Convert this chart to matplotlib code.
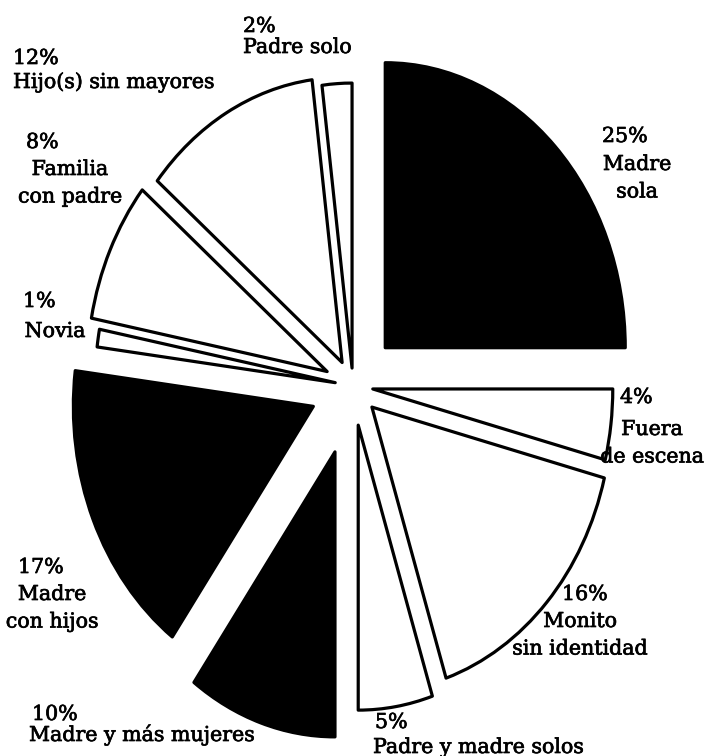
import matplotlib
matplotlib.use("Agg")
import matplotlib.pyplot as plt
import matplotlib.patheffects as pe

# ---- data ----
categories = ["Madre\nsola", "Fuera\nde escena", "Monito\nsin identidad",
              "Padre y madre solos", "Madre y más mujeres", "Madre\ncon hijos",
              "Novia", "Familia\ncon padre", "Hijo(s) sin mayores", "Padre solo"]
percents = [25, 4, 16, 5, 10, 17, 1, 8, 12, 2]
dark = [True, False, False, False, True, True, False, False, False, False]

# ---- layout ----
W, H = 705, 756
explode = [0.19, 0.083, 0.108, 0.139, 0.243, 0.18, 0.075, 0.119, 0.094, 0.063]
# pixel geometry of the (slightly vertically stretched) pie
CX, CY, RX, RY = 353, 386, 240, 285
# label anchors in pixels: (pct_left_x, pct_baseline, name_x, name_baseline, name_ha)
label_pos = [
    (602, 142, 637, 170, "center"),
    (620, 403, 652, 435, "center"),
    (562, 600, 580, 627, "center"),
    (375, 728, 373, 753, "left"),
    (32, 720, 29, 741, "left"),
    (18, 573, 52, 600, "center"),
    (23, 307, 55, 337, "center"),
    (26, 148, 70, 175, "center"),
    (13, 64, 13, 88, "left"),
    (243, 32, 243, 53, "left"),
]
STEP = 27.5
FS = 14.8

fig = plt.figure(figsize=(W / 100, H / 100), dpi=100)
ax = fig.add_axes([0, 0, 1, 1])

colors = ["black" if d else "white" for d in dark]
wedges, _ = ax.pie(percents, explode=explode, startangle=90, counterclock=False,
                   colors=colors,
                   wedgeprops=dict(edgecolor="black", linewidth=2.3, joinstyle="round"))
ax.set_aspect("auto")
ax.set_xlim(-CX / RX, (W - CX) / RX)
ax.set_ylim(-(H - CY) / RY, CY / RY)
ax.axis("off")

thick = [pe.withStroke(linewidth=0.5, foreground="black")]
font = dict(family=["DejaVu Serif"], fontsize=FS, color="black", path_effects=thick)
for name, pct, (px, py, nx, ny, nha) in zip(categories, percents, label_pos):
    fig.text(px / W, 1 - py / H, f"{pct}%", ha="left", va="baseline", **font)
    for i, line in enumerate(name.split("\n")):
        fig.text(nx / W, 1 - (ny + i * STEP) / H, line, ha=nha, va="baseline", **font)

fig.savefig("out.png", dpi=100)
